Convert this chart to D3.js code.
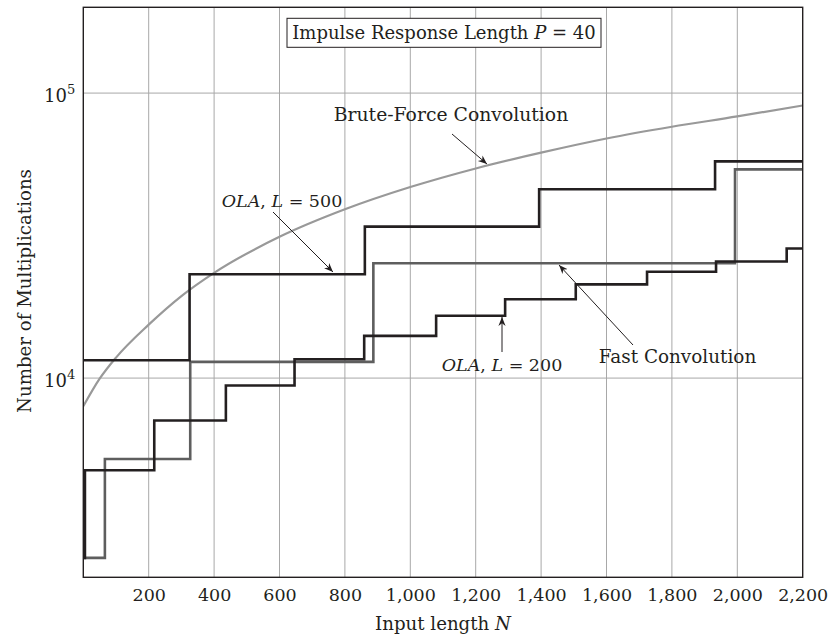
<!DOCTYPE html>
<html>
<head>
<meta charset="utf-8">
<script src="https://cdn.jsdelivr.net/npm/d3@7"></script>
<style>
  html, body { margin: 0; padding: 0; background: #fff; }
  svg { display: block; }
  text { font-family: "DejaVu Serif", "Liberation Serif", serif; fill: #231f20; }
</style>
</head>
<body>
<svg id="chart" width="831" height="637"></svg>
<script>
// ---------------- data ----------------
const xTicks = [200, 400, 600, 800, 1000, 1200, 1400, 1600, 1800, 2000, 2200];
const yTicks = [10000, 100000];
const yTickLabels = [["10", "4"], ["10", "5"]];

// Brute-force convolution (sampled along the curve)
const bruteN = [0, 50, 100, 200, 300, 400, 600, 800, 1000, 1200, 1400, 1600, 1800, 2000, 2200];
const bruteV = [7960, 9950, 11800, 15400, 19400, 23400, 31300, 39100, 46800, 54400, 61800, 69300, 76200, 82800, 90500];

// Fast convolution (step function: value holds from N[i] to N[i+1])
const fastN = [0, 66, 327, 887, 1993, 2200];
const fastV = [2340, 5200, 11400, 25300, 54000, 54000];

// OLA, L = 500
const ola500N = [0, 325, 861, 1394, 1932, 2200];
const ola500V = [11550, 23150, 34000, 46000, 57600, 57600];

// OLA, L = 200
const ola200N = [0, 5, 217, 436, 646, 859, 1079, 1290, 1506, 1724, 1935, 2151, 2200];
const ola200V = [2340, 4750, 7100, 9420, 11650, 14060, 16550, 18910, 21330, 23610, 25650, 28500, 28500];

// ---------------- layout ----------------
const svg = d3.select("#chart");
const L = 83.3, R = 802.7, T = 7.3, B = 577.3;
const x = d3.scaleLinear().domain([0, 2200]).range([L, R]);
const y = d3.scaleLog().domain([2000, 200000]).range([B, T]);
const FS = 17.5;   // tick labels, OLA labels
const FL = 18.4;   // other labels

// defs
const defs = svg.append("defs");
defs.append("clipPath").attr("id", "plot").append("rect")
  .attr("x", L).attr("y", T).attr("width", R - L).attr("height", B - T);
defs.append("marker").attr("id", "arr")
  .attr("viewBox", "0 0 10 10").attr("refX", 10).attr("refY", 5)
  .attr("markerWidth", 9).attr("markerHeight", 9).attr("markerUnits", "userSpaceOnUse")
  .attr("orient", "auto")
  .append("path").attr("d", "M0,1 L10,5 L0,9 L3,5 Z").attr("fill", "#231f20");

// grid
svg.append("g").selectAll("line").data(xTicks.filter(d => d < 2200)).join("line")
  .attr("x1", d => x(d)).attr("x2", d => x(d)).attr("y1", T).attr("y2", B)
  .attr("stroke", "#a8a8a8").attr("stroke-width", 1);
svg.append("g").selectAll("line").data(yTicks).join("line")
  .attr("x1", L).attr("x2", R).attr("y1", d => y(d)).attr("y2", d => y(d))
  .attr("stroke", "#a8a8a8").attr("stroke-width", 1);

// series
const g = svg.append("g").attr("clip-path", "url(#plot)");
const stepLine = d3.line().x(d => x(d[0])).y(d => y(d[1])).curve(d3.curveStepAfter);
const smooth = d3.line().x(d => x(d[0])).y(d => y(d[1])).curve(d3.curveMonotoneX);

g.append("path").datum(d3.zip(bruteN, bruteV)).attr("d", smooth)
  .attr("fill", "none").attr("stroke", "#999").attr("stroke-width", 2.2);
g.append("path").datum(d3.zip(fastN, fastV)).attr("d", stepLine)
  .attr("fill", "none").attr("stroke", "#5e5e5e").attr("stroke-width", 2.6);
g.append("path").datum(d3.zip(ola500N, ola500V)).attr("d", stepLine)
  .attr("fill", "none").attr("stroke", "#231f20").attr("stroke-width", 2.6);
g.append("path").datum(d3.zip(ola200N, ola200V)).attr("d", stepLine)
  .attr("fill", "none").attr("stroke", "#231f20").attr("stroke-width", 2.6);

// frame
svg.append("rect").attr("x", L).attr("y", T).attr("width", R - L).attr("height", B - T)
  .attr("fill", "none").attr("stroke", "#231f20").attr("stroke-width", 1.4);

// x axis
const xAxis = svg.append("g").attr("transform", `translate(0,${B})`)
  .call(d3.axisBottom(x).tickValues(xTicks).tickFormat(d3.format(",")).tickSize(0));
xAxis.select(".domain").remove();
xAxis.selectAll("text").attr("y", 24).attr("dy", 0)
  .style("font-family", "DejaVu Serif").style("font-size", FS + "px").attr("fill", "#231f20");

// y axis
const yAxis = svg.append("g").attr("transform", `translate(${L},0)`)
  .call(d3.axisLeft(y).tickValues(yTicks).tickFormat("").tickSize(0));
yAxis.select(".domain").remove();
yAxis.selectAll(".tick").each(function(d, i) {
  const t = d3.select(this).append("text").attr("x", -8).attr("y", 8).attr("text-anchor", "end")
    .style("font-family", "DejaVu Serif").style("font-size", "18px").attr("fill", "#231f20");
  t.append("tspan").text(yTickLabels[i][0]);
  t.append("tspan").attr("dy", -7.5).style("font-size", "13px").text(yTickLabels[i][1]);
});

// axis titles
const xt = svg.append("text").attr("x", (L + R) / 2).attr("y", 630).attr("text-anchor", "middle")
  .style("font-size", "18.2px");
xt.append("tspan").text("Input length ");
xt.append("tspan").style("font-style", "italic").text("N");

svg.append("text").attr("transform", "translate(31,291) rotate(-90)").attr("text-anchor", "middle")
  .style("font-size", "18.2px").text("Number of Multiplications");

// title box
svg.append("rect").attr("x", 287).attr("y", 18.3).attr("width", 314).attr("height", 29)
  .attr("fill", "#fff").attr("stroke", "#231f20").attr("stroke-width", 1);
const tt = svg.append("text").attr("x", 444).attr("y", 39.3).attr("text-anchor", "middle")
  .style("font-size", "18px");
tt.append("tspan").text("Impulse Response Length ");
tt.append("tspan").style("font-style", "italic").text("P");
tt.append("tspan").text(" = 40");

// annotations
function arrow(x1, y1, x2, y2) {
  svg.append("line").attr("x1", x1).attr("y1", y1).attr("x2", x2).attr("y2", y2)
    .attr("stroke", "#231f20").attr("stroke-width", 1).attr("marker-end", "url(#arr)");
}
svg.append("text").attr("x", 451).attr("y", 121).attr("text-anchor", "middle")
  .style("font-size", "18.8px").text("Brute-Force Convolution");
arrow(452, 134, 487, 164);

function olaLabel(cx, by, val) {
  const t = svg.append("text").attr("x", cx).attr("y", by).attr("text-anchor", "middle")
    .style("font-size", FS + "px");
  t.append("tspan").style("font-style", "italic").text("OLA");
  t.append("tspan").text(", ");
  t.append("tspan").style("font-style", "italic").text("L");
  t.append("tspan").text(" = " + val);
}
olaLabel(282, 207, 500);
arrow(273, 212, 333, 272);
olaLabel(502, 371, 200);
arrow(502, 352, 502, 317);

svg.append("text").attr("x", 677.5).attr("y", 363.3).attr("text-anchor", "middle")
  .style("font-size", FL + "px").text("Fast Convolution");
arrow(633, 345, 559, 265);
</script>
</body>
</html>
